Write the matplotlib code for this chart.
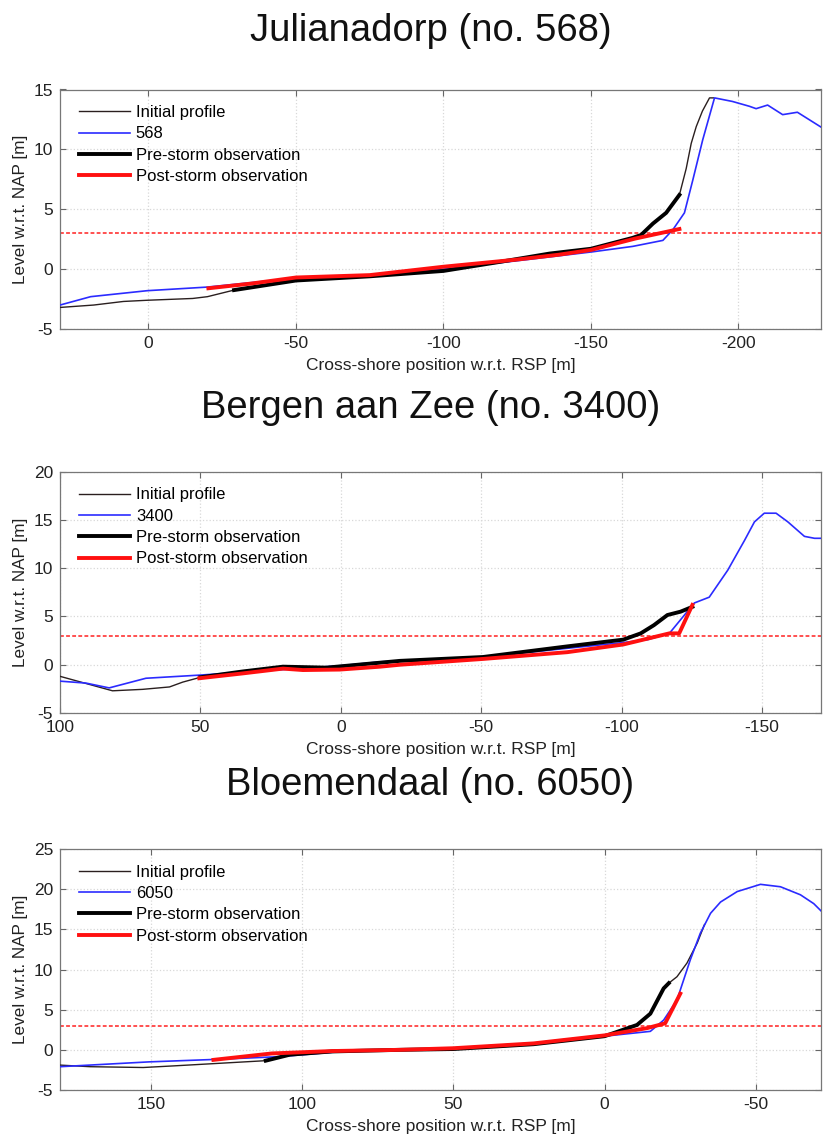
import matplotlib
matplotlib.use("Agg")
import matplotlib.pyplot as plt

plt.rcParams['font.family'] = ['Liberation Sans', 'DejaVu Sans']
plt.rcParams['axes.unicode_minus'] = False

# --- Julianadorp (no. 568) ---
init_x_568 = [30, 18.6, 8.5, 0.4, -15, -20, -29, -50, -75, -100, -119, -136, -150, -164, -167, -171,
              -175.5, -180, -182.3, -184, -185.7, -187.8, -190.2, -191.5]
init_y_568 = [-3.2, -3.0, -2.7, -2.6, -2.45, -2.3, -1.75, -0.95, -0.6, -0.15, 0.6, 1.3, 1.7, 2.6, 2.85, 3.8,
              4.7, 6.2, 8.4, 10.5, 11.9, 13.2, 14.3, 14.3]
model_x_568 = [30, 19.6, 0.4, -19.9, -50, -75, -100, -125, -150.7, -164.2, -174.4, -177.8, -181.7, -184.5,
               -187.9, -191.9, -198, -203.7, -206, -209.9, -215, -220, -228.4]
model_y_568 = [-3.0, -2.3, -1.8, -1.5, -0.75, -0.5, 0.0, 0.7, 1.45, 1.9, 2.4, 3.3, 4.7, 7.4,
               10.8, 14.3, 14.0, 13.6, 13.4, 13.7, 12.9, 13.1, 11.8]
pre_x_568 = [-29, -50, -75, -100, -119, -136, -150, -164, -167, -171, -175.5, -180]
pre_y_568 = [-1.75, -0.95, -0.6, -0.15, 0.6, 1.3, 1.7, 2.6, 2.85, 3.8, 4.7, 6.2]
post_x_568 = [-20.3, -35, -50, -75, -100, -125, -139, -150, -165, -180]
post_y_568 = [-1.6, -1.2, -0.7, -0.5, 0.2, 0.8, 1.2, 1.6, 2.55, 3.35]

# --- Bergen aan Zee (no. 3400) ---
init_x_3400 = [100, 81.3, 70.6, 61, 56.3, 50, 35, 20.6, 5.1, -21, -50.6, -80.6, -100.6, -106.8, -111.5,
               -116.3, -121, -125.2]
init_y_3400 = [-1.2, -2.7, -2.55, -2.3, -1.8, -1.3, -0.7, -0.2, -0.3, 0.4, 0.8, 1.9, 2.6, 3.25, 4.1,
               5.15, 5.5, 6.0]
model_x_3400 = [100, 90.8, 82.5, 69.4, 50, 0, -14, -50.6, -80.6, -100.6, -109.3, -117, -125.9, -131.2,
                -137.8, -143.8, -147.3, -150.8, -155, -159.2, -165.1, -168.7, -172]
model_y_3400 = [-1.7, -1.9, -2.4, -1.4, -1.07, -0.1, 0.3, 0.8, 1.7, 2.3, 2.6, 3.25, 6.4, 7.0,
                9.8, 12.9, 14.8, 15.7, 15.7, 14.8, 13.3, 13.1, 13.1]
pre_x_3400 = [50, 35, 20.6, 5.1, -21, -50.6, -80.6, -100.6, -106.8, -111.5, -116.3, -121, -125.2]
pre_y_3400 = [-1.3, -0.7, -0.2, -0.3, 0.4, 0.8, 1.9, 2.6, 3.25, 4.1, 5.15, 5.5, 6.0]
post_x_3400 = [50.4, 35, 20.6, 13.5, 0.4, -14, -21, -50.6, -80.6, -100.6, -117, -120.5, -125.2]
post_y_3400 = [-1.4, -0.9, -0.4, -0.55, -0.5, -0.2, 0.0, 0.6, 1.3, 2.1, 3.25, 3.25, 6.2]

# --- Bloemendaal (no. 6050) ---
init_x_6050 = [180, 170, 152.5, 142.5, 112, 104, 90, 67.6, 50, 23.5, 0, -10.7, -15.1, -19.5, -21.2,
               -23.9, -27.2, -30.6, -33]
init_y_6050 = [-1.9, -2.1, -2.2, -2.0, -1.35, -0.6, -0.2, 0.0, 0.1, 0.7, 1.7, 3.1, 4.5, 7.65, 8.3,
               9.1, 10.8, 13.3, 15.6]
model_x_6050 = [180, 150.6, 129.3, 107.4, 90, 67.6, 50, 23.5, 0, -15.1, -19.5, -23.9, -28.3, -31.6,
                -35, -38.3, -43.8, -51.5, -58.1, -64.7, -69.1, -72.3]
model_y_6050 = [-2.1, -1.5, -1.2, -0.85, -0.3, 0.0, 0.2, 0.8, 1.7, 2.3, 3.7, 6.2, 11.2, 14.5,
                17.0, 18.4, 19.7, 20.6, 20.3, 19.3, 18.2, 17.0]
pre_x_6050 = [112, 104, 90, 67.6, 50, 23.5, 0, -10.7, -15.1, -19.5, -21.2]
pre_y_6050 = [-1.35, -0.6, -0.2, 0.0, 0.1, 0.7, 1.7, 3.1, 4.5, 7.65, 8.3]
post_x_6050 = [129.3, 110, 100, 90, 67.6, 50, 23.5, 0, -14, -20, -25]
post_y_6050 = [-1.25, -0.45, -0.3, -0.15, 0.0, 0.2, 0.8, 1.8, 2.7, 3.3, 7.0]

titles = ["Julianadorp (no. 568)", "Bergen aan Zee (no. 3400)", "Bloemendaal (no. 6050)"]
names = ["568", "3400", "6050"]
xlims = [(30, -228), (100, -171), (180, -71.5)]
ylims = [(-5, 15), (-5, 20), (-5, 25)]
storm_level = 3

panels = [
    (init_x_568, init_y_568, model_x_568, model_y_568, pre_x_568, pre_y_568, post_x_568, post_y_568),
    (init_x_3400, init_y_3400, model_x_3400, model_y_3400, pre_x_3400, pre_y_3400, post_x_3400, post_y_3400),
    (init_x_6050, init_y_6050, model_x_6050, model_y_6050, pre_x_6050, pre_y_6050, post_x_6050, post_y_6050),
]

fig = plt.figure(figsize=(8.23, 11.35), dpi=100)
H = 1135.0
W = 823.0
ax_left, ax_right = 60 / W, 821 / W
ax_box = [(89.5, 329), (471.7, 713), (849, 1090)]  # top, bottom in pixels
title_y = [31, 408, 785]

for k in range(3):
    top, bot = ax_box[k]
    ax = fig.add_axes([ax_left, 1 - bot / H, ax_right - ax_left, (bot - top) / H])
    ix, iy, mx, my, px, py, ox, oy = panels[k]
    ax.plot(ix, iy, color='#2a1f1f', lw=1.0, label='Initial profile', zorder=3)
    ax.plot(mx, my, color='#2b2bff', lw=1.2, label=names[k], zorder=3)
    ax.plot(px, py, color='black', lw=2.8, label='Pre-storm observation', zorder=4)
    ax.plot(ox, oy, color='#ff1010', lw=2.8, label='Post-storm observation', zorder=5)
    ax.axhline(storm_level, color='#ff2020', lw=1.1, ls=(0, (2.5, 1.5)), zorder=2)
    ax.set_xlim(*xlims[k])
    ax.set_ylim(*ylims[k])
    ax.set_yticks(range(ylims[k][0], ylims[k][1] + 1, 5))
    ax.grid(True, color='#d8d8d8', ls=':', lw=0.9)
    ax.tick_params(direction='in', top=True, right=True, length=4, color='#666666',
                   labelsize=12.5, labelcolor='#222222', pad=5)
    for s in ax.spines.values():
        s.set_color('#777777')
        s.set_linewidth(0.9)
    ax.set_xlabel('Cross-shore position w.r.t. RSP [m]', fontsize=12.5, labelpad=5, color='#222222')
    ax.set_ylabel('Level w.r.t. NAP [m]', fontsize=12.3, labelpad=4, color='#222222')
    ax.legend(loc='upper left', bbox_to_anchor=(0.025, 0.935), frameon=False, fontsize=12,
              handlelength=3.05, handletextpad=0.36, labelspacing=0.38, borderpad=0, borderaxespad=0)
    fig.text(0.523, 1 - title_y[k] / H, titles[k], ha='center', va='center', fontsize=27.5, color='#111111')

fig.savefig('out.png', dpi=100)
